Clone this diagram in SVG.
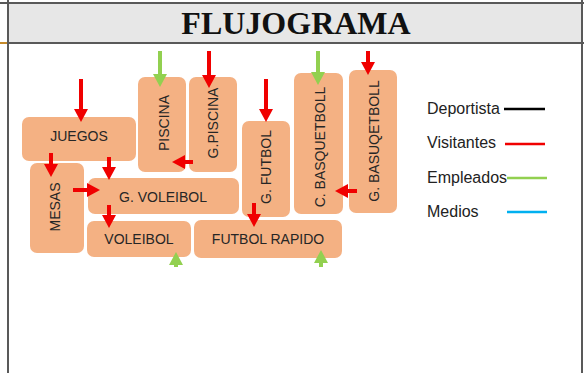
<svg xmlns="http://www.w3.org/2000/svg" width="584" height="373" viewBox="0 0 584 373">
<defs>
<style>
.box{fill:#f4b183;stroke:none}
.t{font-family:"Liberation Sans",Arial,sans-serif;font-size:14px;fill:#262626;text-anchor:middle}
.lg{font-family:"Liberation Sans",Arial,sans-serif;font-size:16px;fill:#222}
.r{stroke:#f00000;stroke-width:4;fill:none;marker-end:url(#ar)}
.g{stroke:#92d050;stroke-width:4;fill:none;marker-end:url(#ag)}
.frame{stroke:#595959;stroke-width:2;fill:none}
</style>
<marker id="ar" viewBox="0 0 13 14" refX="1" refY="7" markerWidth="13" markerHeight="14" orient="auto" markerUnits="userSpaceOnUse"><path d="M0,0 L13,7 L0,14 z" fill="#f00000"/></marker>
<marker id="ag" viewBox="0 0 13 14" refX="1" refY="7" markerWidth="13" markerHeight="14" orient="auto" markerUnits="userSpaceOnUse"><path d="M0,0 L13,7 L0,14 z" fill="#92d050"/></marker>
</defs>
<rect width="584" height="373" fill="#ffffff"/>
<g id="header">
<rect x="8" y="3" width="574" height="40" fill="#e7e7e7"/>
<line class="frame" x1="0" y1="3" x2="584" y2="3"/>
<line class="frame" x1="0" y1="43" x2="584" y2="43"/>
<line class="frame" x1="8" y1="0" x2="8" y2="373"/>
<line class="frame" x1="582" y1="0" x2="582" y2="373"/>
<line x1="0" y1="43" x2="7" y2="43" stroke="#c58a2a" stroke-width="2"/>
<text x="296" y="34" font-family="'Liberation Serif','Times New Roman',serif" font-size="32" font-weight="bold" fill="#111" text-anchor="middle">FLUJOGRAMA</text>
</g>
<g id="juegos"><rect class="box" x="22" y="117" width="114" height="44" rx="7"/><text class="t" x="79" y="141">JUEGOS</text></g>
<g id="piscina"><rect class="box" x="138" y="77" width="48" height="95" rx="7"/><text class="t" transform="translate(164,123) rotate(-90)" y="5">PISCINA</text></g>
<g id="gpiscina"><rect class="box" x="189" y="77" width="48" height="95" rx="7"/><text class="t" transform="translate(213,123) rotate(-90)" y="5">G.PISCINA</text></g>
<g id="mesas"><rect class="box" x="30" y="163" width="54" height="90" rx="7"/><text class="t" transform="translate(55,207) rotate(-90)" y="5">MESAS</text></g>
<g id="gvoleibol"><rect class="box" x="88" y="178" width="151" height="36" rx="7"/><text class="t" x="163" y="202">G. VOLEIBOL</text></g>
<g id="voleibol"><rect class="box" x="87" y="221" width="104" height="36" rx="7"/><text class="t" x="139" y="244">VOLEIBOL</text></g>
<g id="futbolrapido"><rect class="box" x="194" y="220" width="148" height="38" rx="7"/><text class="t" x="268" y="244">FUTBOL RAPIDO</text></g>
<g id="gfutbol"><rect class="box" x="242" y="121" width="48" height="96" rx="7"/><text class="t" transform="translate(266,167) rotate(-90)" y="5">G. FUTBOL</text></g>
<g id="cbasquetboll"><rect class="box" x="294" y="73" width="49" height="141" rx="7"/><text class="t" transform="translate(320,147) rotate(-90)" y="5">C. BASQUETBOLL</text></g>
<g id="gbasuqetboll"><rect class="box" x="349" y="70" width="48" height="143" rx="7"/><text class="t" transform="translate(374,141) rotate(-90)" y="5">G. BASUQETBOLL</text></g>
<g id="connectors">
<path class="r" d="M81,79 V110"/>
<path class="r" d="M209,51 V76"/>
<path class="r" d="M193,162 H184"/>
<path class="r" d="M51,153 V165"/>
<path class="r" d="M109,157 V168"/>
<path class="r" d="M73,190 H88"/>
<path class="r" d="M109,205 V216"/>
<path class="r" d="M266,79 V110"/>
<path class="r" d="M254,203 V215"/>
<path class="r" d="M368,51 V63"/>
<path class="r" d="M357,191 H347"/>
<path class="g" d="M160,51 V75"/>
<path class="g" d="M318,51 V73"/>
<path class="g" d="M176,267 V264"/>
<path class="g" d="M321,267 V262"/>
</g>
<g id="legend">
<text class="lg" x="427" y="114">Deportista</text>
<line x1="504" y1="109" x2="545" y2="109" stroke="#000" stroke-width="2.5"/>
<text class="lg" x="427" y="148">Visitantes</text>
<line x1="505" y1="144" x2="545" y2="144" stroke="#f00000" stroke-width="2.5"/>
<text class="lg" x="427" y="183">Empleados</text>
<line x1="507" y1="178" x2="547" y2="178" stroke="#92d050" stroke-width="2.5"/>
<text class="lg" x="427" y="217">Medios</text>
<line x1="507" y1="212" x2="547" y2="212" stroke="#00b0f0" stroke-width="2.5"/>
</g>
</svg>
